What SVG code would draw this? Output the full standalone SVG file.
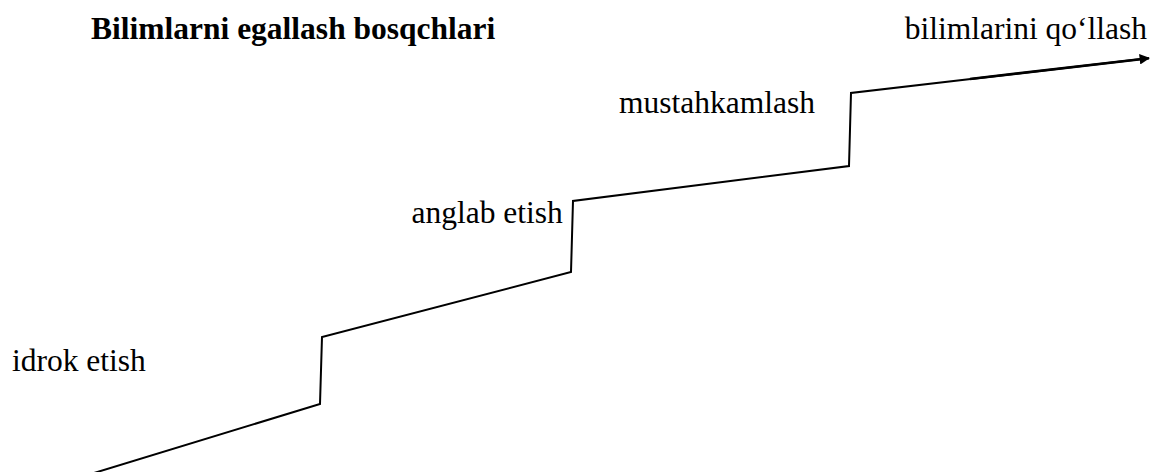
<svg xmlns="http://www.w3.org/2000/svg" width="1150" height="472" viewBox="0 0 1150 472">
  <style>
    text { font-family: 'Liberation Serif', 'DejaVu Serif', serif; font-size: 31.5px; fill: #000; }
    .title { font-weight: bold; }
    .step { fill: none; stroke: #000; stroke-width: 2; stroke-linejoin: miter; }
    .arrow { fill: none; stroke: #000; stroke-width: 2.6; }
  </style>
  <defs>
    <marker id="ah" viewBox="0 0 10 10" refX="9" refY="5" markerWidth="4" markerHeight="4" orient="auto" markerUnits="strokeWidth">
      <path d="M0,0 L10,5 L0,10 z" fill="#000"/>
    </marker>
  </defs>
  <rect width="1150" height="472" fill="#fff"/>
  <g id="connectors">
    <polyline class="step" points="94,473 320,404 322,337 571,272 573,201 849,166 851,93 1146,58.5"/>
    <line class="arrow" x1="970" y1="79" x2="1149" y2="58.2" marker-end="url(#ah)"/>
  </g>
  <g id="title"><text class="title" x="91" y="39" font-family="Liberation Serif, serif">Bilimlarni egallash bosqchlari</text></g>
  <g id="node-idrok"><text x="12" y="371" font-family="Liberation Serif, serif">idrok etish</text></g>
  <g id="node-anglab"><text x="411.5" y="223" font-family="Liberation Serif, serif">anglab etish</text></g>
  <g id="node-mustahkamlash"><text x="619" y="113" font-family="Liberation Serif, serif">mustahkamlash</text></g>
  <g id="node-qollash"><text x="1147" y="39" text-anchor="end" font-family="Liberation Serif, serif">bilimlarini qo‘llash</text></g>
</svg>
